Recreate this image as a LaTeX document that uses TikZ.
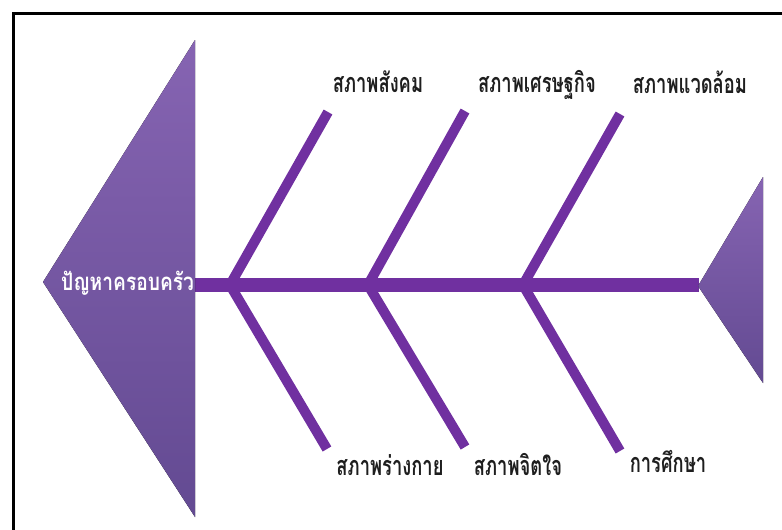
\documentclass[tikz,border=0pt]{standalone}
\usepackage{fontspec}
\newfontfamily\thai[Script=Thai,FakeStretch=0.68]{Loma}
\newfontfamily\thaihead[Script=Thai,FakeStretch=0.80]{Loma}
\definecolor{bone}{HTML}{7030A0}
\definecolor{triTop}{HTML}{8664B2}
\definecolor{triBot}{HTML}{634A92}
\definecolor{labtext}{HTML}{1E1E1E}
\tikzset{
  bonestyle/.style={draw=bone,line width=10pt,line cap=butt,line join=miter},
  spinestyle/.style={draw=bone,line width=14pt,line cap=butt},
  fishtri/.style={top color=triTop,bottom color=triBot,draw=none},
  catlabel/.style={font=\thai\bfseries\fontsize{27}{30}\selectfont,text=labtext,anchor=base,inner sep=0pt},
  headlabel/.style={font=\thaihead\bfseries\fontsize{24}{28}\selectfont,text=white,anchor=base west,inner sep=0pt},
  framestyle/.style={draw=black,line width=3pt}
}
\begin{document}
\begin{tikzpicture}[x=1pt,y=-1pt]
\useasboundingbox (0,0) rectangle (782,530);
% frame
\coordinate (fTR) at (782,13);
\coordinate (fTL) at (13,13);
\coordinate (fBL) at (13,530);
\draw[framestyle] (fTR) -- (fTL) -- (fBL);
% spine
\coordinate (sL) at (195,285);
\coordinate (sR) at (699,285);
\draw[spinestyle] (sL) -- (sR);
% bones
\coordinate (j1) at (230,285);
\coordinate (j2) at (368,285);
\coordinate (j3) at (523,285);
\coordinate (t1) at (328,112);
\coordinate (t2) at (465,111);
\coordinate (t3) at (620,114);
\coordinate (b1) at (327,449);
\coordinate (b2) at (465,447);
\coordinate (b3) at (620,451);
\draw[bonestyle] (t1) -- (j1) -- (b1);
\draw[bonestyle] (t2) -- (j2) -- (b2);
\draw[bonestyle] (t3) -- (j3) -- (b3);
% head
\coordinate (hA) at (43,282);
\coordinate (hT) at (195,40);
\coordinate (hB) at (195,517);
\fill[fishtri] (hA) -- (hT) -- (hB) -- cycle;
% tail
\coordinate (tA) at (698,286);
\coordinate (tT) at (763,177);
\coordinate (tB) at (763,383);
\fill[fishtri] (tA) -- (tT) -- (tB) -- cycle;
% labels
\node[headlabel] (head) at (61,290) {ปัญหาครอบครัว};
\node[catlabel] (l1) at (378,92) {สภาพสังคม};
\node[catlabel] (l2) at (537,92) {สภาพเศรษฐกิจ};
\node[catlabel] (l3) at (690,93) {สภาพแวดล้อม};
\node[catlabel] (l4) at (390,475) {สภาพร่างกาย};
\node[catlabel] (l5) at (518,475) {สภาพจิตใจ};
\node[catlabel] (l6) at (668,472) {การศึกษา};
\end{tikzpicture}
\end{document}
